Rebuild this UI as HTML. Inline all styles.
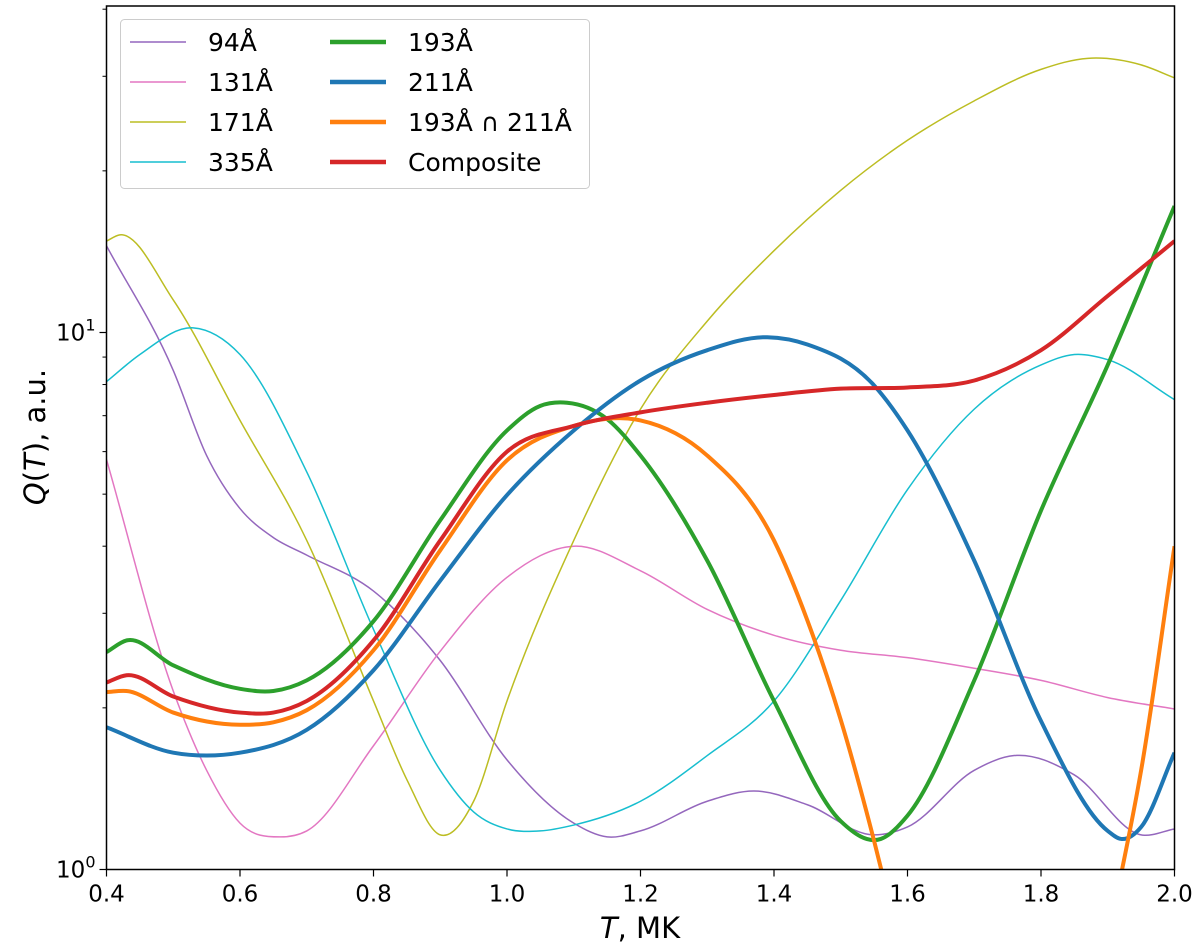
<!DOCTYPE html>
<html><head><meta charset="utf-8"><style>
body{margin:0;background:#fff}
svg{display:block;font-family:"DejaVu Sans","Liberation Sans",sans-serif}
</style></head><body>
<svg id="chart" width="1200" height="947">
<defs><clipPath id="clip"><rect x="106.5" y="6" width="1068" height="863.5"/></clipPath></defs>
<g id="plot" clip-path="url(#clip)"></g>
<g id="axes"></g>
</svg>
<script>
const T94=[0.4,0.5,0.55,0.6,0.65,0.7,0.8,0.9,1.0,1.1,1.15,1.2,1.3,1.37,1.45,1.55,1.6,1.7,1.76,1.85,1.95,2.0];
const V94=[14.5,8.5,5.9,4.7,4.15,3.85,3.3,2.45,1.6,1.22,1.15,1.18,1.34,1.4,1.32,1.16,1.2,1.53,1.63,1.5,1.16,1.19];
const T131=[0.4,0.5,0.55,0.6,0.66,0.7,0.8,0.9,1.0,1.1,1.2,1.3,1.4,1.5,1.6,1.7,1.8,1.9,2.0];
const V131=[5.8,2.15,1.53,1.22,1.15,1.18,1.7,2.55,3.5,4.0,3.6,3.05,2.73,2.56,2.48,2.37,2.25,2.09,1.99];
const T171=[0.4,0.42,0.5,0.6,0.7,0.8,0.85,0.9,0.95,1.0,1.1,1.2,1.3,1.4,1.5,1.6,1.7,1.8,1.87,1.95,2.0];
const V171=[14.8,15.2,11.5,6.86,4.1,2.06,1.47,1.16,1.34,2.06,4.1,7.2,10.5,14.2,18.4,22.8,27,30.9,32.4,31.5,29.8];
const T335=[0.4,0.45,0.53,0.6,0.7,0.8,0.9,0.95,1.0,1.05,1.1,1.2,1.3,1.4,1.5,1.6,1.7,1.8,1.85,1.9,2.0];
const V335=[8.1,9.1,10.2,9.1,5.5,2.8,1.53,1.28,1.19,1.18,1.21,1.34,1.63,2.06,3.17,5.1,7.2,8.7,9.1,8.9,7.5];
const T193=[0.4,0.43,0.5,0.6,0.65,0.7,0.8,0.9,1.0,1.05,1.09,1.15,1.2,1.3,1.4,1.5,1.56,1.6,1.7,1.8,1.9,2.0];
const V193=[2.54,2.67,2.4,2.17,2.15,2.25,2.9,4.47,6.57,7.3,7.4,6.9,5.9,3.76,2.06,1.23,1.14,1.26,2.25,4.66,8.7,17.2];
const T211=[0.4,0.5,0.55,0.6,0.7,0.8,0.9,1.0,1.1,1.2,1.3,1.39,1.45,1.55,1.6,1.7,1.8,1.9,1.92,1.95,2.0];
const V211=[1.84,1.65,1.63,1.65,1.82,2.35,3.45,4.98,6.57,8.14,9.27,9.8,9.5,7.97,6.57,3.76,1.89,1.18,1.14,1.2,1.65];
const TOR1=[0.4,0.43,0.5,0.6,0.65,0.7,0.8,0.9,1.0,1.1,1.2,1.3,1.4,1.45,1.5,1.55,1.58];
const VOR1=[2.14,2.15,1.96,1.86,1.88,1.98,2.56,3.93,5.78,6.7,6.86,5.9,4.1,2.91,1.9,1.13,0.8];
const TOR2=[1.9,1.92,1.95,2.0];
const VOR2=[0.75,0.98,1.53,4.0];
const TCOMP=[0.4,0.43,0.5,0.6,0.65,0.7,0.8,0.9,1.0,1.1,1.2,1.3,1.4,1.5,1.6,1.7,1.8,1.9,2.0];
const VCOMP=[2.23,2.3,2.1,1.96,1.96,2.06,2.67,4.1,6.0,6.7,7.1,7.4,7.65,7.86,7.9,8.14,9.27,11.7,14.8];
const xTicks=[0.4,0.6,0.8,1.0,1.2,1.4,1.6,1.8,2.0];
const xTickLabels=["0.4","0.6","0.8","1.0","1.2","1.4","1.6","1.8","2.0"];

const X0=106.5,X1=1174.5,Y0=869.5,YD=537,YT=6;
const sx=t=>X0+(t-0.4)/1.6*(X1-X0);
const sy=v=>Y0-Math.log10(v)*YD;
const NS="http://www.w3.org/2000/svg";
const plot=document.getElementById('plot'),axes=document.getElementById('axes'),svg=document.getElementById('chart');
function mk(tag,attrs,parent){const e=document.createElementNS(NS,tag);for(const k in attrs)e.setAttribute(k,attrs[k]);parent.appendChild(e);return e;}
function pathFor(T,V){
  const x=T.map(sx),y=V.map(sy),n=x.length,m=[];
  for(let i=0;i<n;i++){
    if(i===0)m.push((y[1]-y[0])/(x[1]-x[0]));
    else if(i===n-1)m.push((y[n-1]-y[n-2])/(x[n-1]-x[n-2]));
    else{const h0=x[i]-x[i-1],h1=x[i+1]-x[i],d0=(y[i]-y[i-1])/h0,d1=(y[i+1]-y[i])/h1;m.push((d0*h1+d1*h0)/(h0+h1));}
  }
  let d=`M${x[0]},${y[0]}`;
  for(let i=0;i<n-1;i++){
    const h=(x[i+1]-x[i])/3;
    d+=`C${x[i]+h},${y[i]+m[i]*h} ${x[i+1]-h},${y[i+1]-m[i+1]*h} ${x[i+1]},${y[i+1]}`;
  }
  return d;
}
const series=[
 [T94,V94,'#9467bd',1.5,'line-94'],[T131,V131,'#e377c2',1.5,'line-131'],
 [T171,V171,'#bcbd22',1.5,'line-171'],[T335,V335,'#17becf',1.5,'line-335'],
 [T193,V193,'#2ca02c',4,'line-193'],[T211,V211,'#1f77b4',4,'line-211'],
 [TOR1,VOR1,'#ff7f0e',4,'line-193-and-211'],[TOR2,VOR2,'#ff7f0e',4,'line-193-and-211-b'],
 [TCOMP,VCOMP,'#d62728',4,'line-composite']];
series.forEach(s=>{
  const e=mk('path',{d:pathFor(s[0],s[1]),fill:'none',stroke:s[2],'stroke-width':s[3]},plot);
  
  
});
const fr=mk('rect',{x:X0,y:YT,width:X1-X0,height:Y0-YT,fill:'none',stroke:'#000','stroke-width':1.5},axes);


xTicks.forEach((t,i)=>{
  mk('line',{x1:sx(t),x2:sx(t),y1:Y0,y2:Y0+7,stroke:'#000','stroke-width':1.2},axes);
  const tx=mk('text',{x:sx(t),y:Y0+32,'font-size':23,'text-anchor':'middle'},axes);
  tx.textContent=xTickLabels[i];
  
  
});
[1,10].forEach(v=>mk('line',{x1:X0-7,x2:X0,y1:sy(v),y2:sy(v),stroke:'#000','stroke-width':1.2},axes));
[2,3,4,5,6,7,8,9,20,30,40].forEach(v=>{if(sy(v)>YT)mk('line',{x1:X0-4,x2:X0,y1:sy(v),y2:sy(v),stroke:'#000','stroke-width':1},axes);});
[[1,'0'],[10,'1']].forEach(([v,e])=>{
  const tx=mk('text',{x:X0-11,y:sy(v)+8,'font-size':23,'text-anchor':'end'},axes);
  tx.innerHTML=`10<tspan dy="-10" font-size="16">${e}</tspan>`;
  
  
});
const xl=mk('text',{x:640,y:938,'font-size':29,'text-anchor':'middle'},axes);
xl.innerHTML='<tspan font-style="italic">T</tspan>, MK';


const yl=mk('text',{x:0,y:0,'font-size':29,'text-anchor':'middle',transform:'translate(45,437) rotate(-90)'},axes);
yl.innerHTML='<tspan font-style="italic">Q</tspan>(<tspan font-style="italic">T</tspan>), a.u.';


const lg=mk('g',{},svg);


mk('rect',{x:120.5,y:19.5,width:469,height:169,rx:4,fill:'#fff','fill-opacity':0.85,stroke:'#ccc','stroke-width':1},lg);
const entries=[['94Å','#9467bd',1.5],['131Å','#e377c2',1.5],['171Å','#bcbd22',1.5],['335Å','#17becf',1.5],
 ['193Å','#2ca02c',4.5],['211Å','#1f77b4',4.5],['193Å ∩ 211Å','#ff7f0e',4.5],['Composite','#d62728',4.5]];
entries.forEach((en,i)=>{
  const col=Math.floor(i/4),row=i%4,y=42+row*40,x=col?330:130;
  const g=mk('g',{},lg);
  
  
  mk('line',{x1:x,x2:x+56,y1:y,y2:y,stroke:en[1],'stroke-width':en[2]},g);
  const t=mk('text',{x:x+78,y:y+9,'font-size':25},g);t.textContent=en[0];
});
</script>
</body></html>
